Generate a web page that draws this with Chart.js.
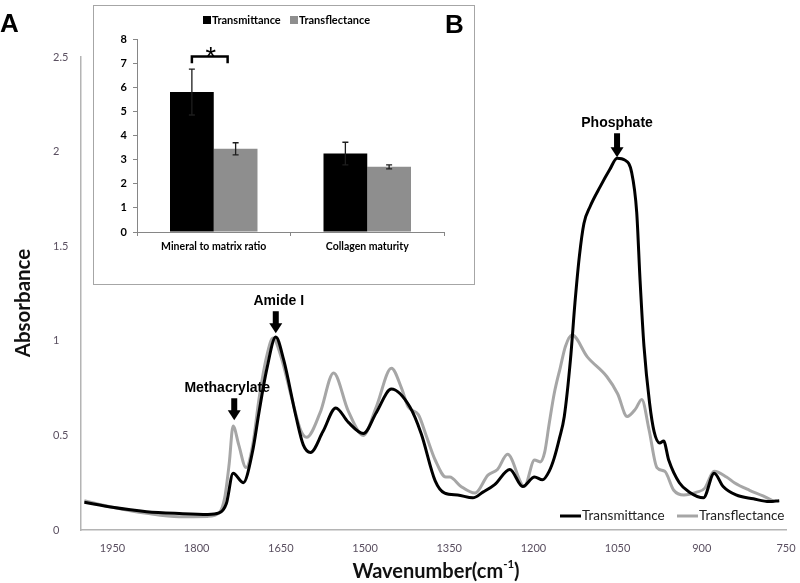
<!DOCTYPE html>
<html>
<head>
<meta charset="utf-8">
<script src="https://cdn.jsdelivr.net/npm/chart.js@4.4.0/dist/chart.umd.min.js"></script>
<style>
body { margin: 0; background: #fff; }
#wrap { position: relative; width: 800px; height: 583px; }
#main { position: absolute; left: 0; top: 0; }
#insetBox { position: absolute; left: 93px; top: 5px; width: 380px; height: 278px; border: 1px solid #a6a6a6; background: #fff; }
#inset { position: absolute; left: 0; top: 0; }
</style>
</head>
<body>
<div id="wrap">
  <canvas id="main" width="800" height="583"></canvas>
  <div id="insetBox"><canvas id="inset" width="380" height="278"></canvas></div>
</div>
<script>
// espectros (A) - numero de onda / absorbancia
const transWn  = [2000, 1950, 1889, 1831, 1780, 1760, 1747, 1735, 1717, 1700, 1689, 1675, 1659, 1645, 1623, 1610, 1597, 1575, 1552, 1530, 1503, 1480, 1453, 1420, 1400, 1375, 1358, 1335, 1308, 1290, 1269, 1242, 1219, 1198, 1184, 1172, 1163, 1154, 1145, 1134, 1126, 1118, 1110, 1099, 1081, 1064, 1051, 1037, 1025, 1016, 1010, 1003, 993, 985, 975, 968, 959, 940, 922, 897, 878, 862, 839, 808, 780, 762];
const transAbs = [0.147, 0.12, 0.097, 0.087, 0.082, 0.09, 0.14, 0.30, 0.25, 0.42, 0.62, 0.85, 1.02, 0.90, 0.60, 0.45, 0.41, 0.52, 0.645, 0.57, 0.51, 0.62, 0.745, 0.65, 0.51, 0.26, 0.195, 0.185, 0.17, 0.20, 0.24, 0.32, 0.23, 0.28, 0.265, 0.31, 0.38, 0.48, 0.60, 0.90, 1.20, 1.45, 1.62, 1.71, 1.815, 1.905, 1.965, 1.955, 1.89, 1.68, 1.32, 0.97, 0.67, 0.52, 0.46, 0.47, 0.37, 0.25, 0.20, 0.17, 0.30, 0.23, 0.185, 0.165, 0.15, 0.155];
const reflWn   = [2000, 1950, 1889, 1831, 1780, 1760, 1750, 1742, 1735, 1725, 1712, 1700, 1689, 1675, 1664, 1650, 1630, 1615, 1604, 1580, 1556, 1530, 1503, 1480, 1453, 1435, 1423, 1405, 1390, 1375, 1356, 1349, 1329, 1304, 1281, 1264, 1246, 1216, 1198, 1188, 1180, 1172, 1163, 1152, 1143, 1131, 1104, 1069, 1050, 1033, 1018, 1007, 994, 980, 966, 950, 932, 909, 895, 878, 856, 842, 815, 791, 771];
const reflAbs  = [0.155, 0.12, 0.088, 0.07, 0.072, 0.09, 0.17, 0.35, 0.55, 0.45, 0.33, 0.45, 0.69, 0.92, 1.015, 0.92, 0.69, 0.53, 0.49, 0.62, 0.83, 0.63, 0.50, 0.65, 0.855, 0.75, 0.65, 0.61, 0.49, 0.37, 0.28, 0.28, 0.23, 0.195, 0.29, 0.32, 0.40, 0.23, 0.37, 0.36, 0.41, 0.56, 0.72, 0.86, 0.97, 1.03, 0.915, 0.81, 0.72, 0.60, 0.64, 0.69, 0.53, 0.33, 0.31, 0.21, 0.185, 0.20, 0.22, 0.31, 0.28, 0.25, 0.21, 0.18, 0.15];
const xTicks = [1950, 1800, 1650, 1500, 1350, 1200, 1050, 900, 750];
const seriesNames = ['Transmittance', 'Transflectance'];

// picos marcados com seta
const peakNames = ['Methacrylate', 'Amide I', 'Phosphate'];
const peakWn  = [1733, 1659, 1051];
const peakAbs = [0.58, 1.04, 1.97];

// grafico de barras (B)
const barCats  = ['Mineral to matrix ratio', 'Collagen maturity'];
const transVals = [5.8, 3.25];
const transErr  = [0.95, 0.47];
const reflVals  = [3.45, 2.7];
const reflErr   = [0.25, 0.08];

const BLACK = '#000000';
const GREY_LINE = '#a6a6a6';
const GREY_BAR = '#8e8e8e';

function toPts(xs, ys) { // junta os arrays em pontos x/y
    let pts = [];
    for (let i = 0; i < xs.length; i++) pts.push({ x: xs[i], y: ys[i] });
    return pts;
}

function drawArrow(ctx, x, tipY, len) {
    ctx.fillStyle = '#000';
    ctx.fillRect(x - 3, tipY - len, 6, len - 9);
    ctx.beginPath();
    ctx.moveTo(x - 6.5, tipY - 10);
    ctx.lineTo(x + 6.5, tipY - 10);
    ctx.lineTo(x, tipY);
    ctx.closePath();
    ctx.fill();
}

const mainDecor = {
    id: 'mainDecor',
    afterDatasetsDraw(chart) {
        const ctx = chart.ctx;
        const xs = chart.scales.x, ys = chart.scales.y;
        const dx = [-7, 3, 0];
        const lens = [22, 22, 24];
        ctx.save();
        for (let i = 0; i < peakNames.length; i++) {
            const px = xs.getPixelForValue(peakWn[i]);
            const py = ys.getPixelForValue(peakAbs[i]);
            drawArrow(ctx, px, py, lens[i]);
            ctx.font = 'bold 14px "Liberation Sans", Arial, sans-serif';
            ctx.textAlign = 'center';
            ctx.textBaseline = 'middle';
            ctx.fillStyle = '#000';
            ctx.fillText(peakNames[i], px + dx[i], py - lens[i] - 10);
        }
        ctx.restore();
    },
    afterDraw(chart) {
        const ctx = chart.ctx;
        ctx.save();
        // legenda
        const legX = [560, 677];
        const cols = [BLACK, GREY_LINE];
        ctx.font = '13.5px Lato, sans-serif';
        ctx.textBaseline = 'middle';
        ctx.textAlign = 'left';
        for (let i = 0; i < 2; i++) {
            ctx.strokeStyle = cols[i];
            ctx.lineWidth = 3;
            ctx.beginPath();
            ctx.moveTo(legX[i], 516);
            ctx.lineTo(legX[i] + 21, 516);
            ctx.stroke();
            ctx.fillStyle = '#222';
            ctx.fillText(seriesNames[i], legX[i] + 22, 516);
        }
        // titulos dos eixos
        ctx.fillStyle = '#111';
        ctx.font = 'bold 20.5px Lato, sans-serif';
        ctx.save();
        ctx.translate(23, 303);
        ctx.rotate(-Math.PI / 2);
        ctx.textAlign = 'center';
        ctx.fillText('Absorbance', 0, 0);
        ctx.restore();
        const t1 = 'Wavenumber(cm', t2 = '-1', t3 = ')';
        ctx.font = 'bold 20px Lato, sans-serif';
        const w1 = ctx.measureText(t1).width, w3 = ctx.measureText(t3).width;
        ctx.font = 'bold 11.5px Lato, sans-serif';
        const w2 = ctx.measureText(t2).width;
        let x0 = 436 - (w1 + w2 + w3) / 2;
        ctx.textAlign = 'left';
        ctx.font = 'bold 20px Lato, sans-serif';
        ctx.fillText(t1, x0, 572);
        ctx.font = 'bold 11.5px Lato, sans-serif';
        ctx.fillText(t2, x0 + w1, 564);
        ctx.font = 'bold 20px Lato, sans-serif';
        ctx.fillText(t3, x0 + w1 + w2, 572);
        // letra do painel
        ctx.font = 'bold 26px "Liberation Sans", Arial, sans-serif';
        ctx.fillStyle = '#000';
        ctx.fillText('A', 0, 25);
        ctx.restore();
    }
};

new Chart(document.getElementById('main'), {
    type: 'line',
    data: {
        datasets: [{
            label: seriesNames[0],
            data: toPts(transWn, transAbs),
            borderColor: BLACK,
            borderWidth: 3,
            pointRadius: 0,
            cubicInterpolationMode: 'monotone'
        }, {
            label: seriesNames[1],
            data: toPts(reflWn, reflAbs),
            borderColor: GREY_LINE,
            borderWidth: 3,
            pointRadius: 0,
            cubicInterpolationMode: 'monotone'
        }]
    },
    options: {
        responsive: false,
        animation: false,
        devicePixelRatio: 1,
        layout: { padding: { left: 53, top: 57, right: 14, bottom: 23 } },
        plugins: { legend: { display: false }, tooltip: { enabled: false } },
        scales: {
            x: {
                type: 'linear',
                reverse: true,
                min: 750,
                max: 2006,
                afterBuildTicks: function (s) { s.ticks = xTicks.map(v => ({ value: v })); },
                afterFit: function (s) { s.height = 30; s.paddingLeft = 0; s.paddingRight = 0; },
                grid: { display: true, drawOnChartArea: false, drawTicks: false },
                border: { color: '#b4b4b4', width: 1.5 },
                ticks: {
                    autoSkip: false, maxRotation: 0, padding: 12,
                    color: '#5a4f60', font: { family: 'Lato', size: 11 },
                    callback: v => String(v)
                }
            },
            y: {
                min: 0,
                max: 2.5,
                afterFit: function (s) { s.width = 28; },
                grid: { display: true, drawOnChartArea: false, drawTicks: false },
                border: { color: '#b4b4b4', width: 1.5 },
                ticks: {
                    stepSize: 0.5, crossAlign: 'far', padding: 0,
                    color: '#5a4f60', font: { family: 'Lato', size: 11 },
                    callback: v => String(v)
                }
            }
        }
    },
    plugins: [mainDecor]
});

// barras de erro, colchete de significancia, legenda e letra B
const insetDecor = {
    id: 'insetDecor',
    afterDatasetsDraw(chart) {
        const ctx = chart.ctx, ys = chart.scales.y;
        const vals = [transVals, reflVals], errs = [transErr, reflErr];
        ctx.save();
        ctx.strokeStyle = '#1e1e1e';
        ctx.lineWidth = 1.3;
        for (let d = 0; d < 2; d++) {
            const meta = chart.getDatasetMeta(d);
            meta.data.forEach(function (bar, i) {
                const top = ys.getPixelForValue(vals[d][i] + errs[d][i]);
                const bot = ys.getPixelForValue(vals[d][i] - errs[d][i]);
                ctx.beginPath();
                ctx.moveTo(bar.x, top); ctx.lineTo(bar.x, bot);
                ctx.moveTo(bar.x - 3, top); ctx.lineTo(bar.x + 3, top);
                ctx.moveTo(bar.x - 3, bot); ctx.lineTo(bar.x + 3, bot);
                ctx.stroke();
            });
        }
        // colchete *
        const b0 = chart.getDatasetMeta(0).data[0], b1 = chart.getDatasetMeta(1).data[0];
        const yTop = ys.getPixelForValue(7.27), yEnd = ys.getPixelForValue(7.0);
        const xl = b0.x, xr = b1.x - 8;
        ctx.strokeStyle = '#000';
        ctx.lineWidth = 2.5;
        ctx.beginPath();
        ctx.moveTo(xl, yEnd); ctx.lineTo(xl, yTop); ctx.lineTo(xr, yTop); ctx.lineTo(xr, yEnd);
        ctx.stroke();
        ctx.fillStyle = '#000';
        ctx.font = '27px "Liberation Sans", Arial, sans-serif';
        ctx.textAlign = 'center';
        ctx.textBaseline = 'alphabetic';
        ctx.fillText('*', (xl + xr) / 2 + 1, yTop + 9);
        ctx.restore();
    },
    afterDraw(chart) {
        const ctx = chart.ctx;
        ctx.save();
        const lx = [109, 196];
        const cols = [BLACK, GREY_BAR];
        ctx.font = 'bold 11px Lato, sans-serif';
        ctx.textBaseline = 'middle';
        ctx.textAlign = 'left';
        for (let i = 0; i < 2; i++) {
            ctx.fillStyle = cols[i];
            ctx.fillRect(lx[i], 10, 8, 8);
            ctx.fillStyle = '#000';
            ctx.fillText(seriesNames[i], lx[i] + 9, 14.5);
        }
        ctx.font = 'bold 26px "Liberation Sans", Arial, sans-serif';
        ctx.fillText('B', 351, 20);
        ctx.restore();
    }
};

new Chart(document.getElementById('inset'), {
    type: 'bar',
    data: {
        labels: barCats,
        datasets: [{
            label: seriesNames[0],
            data: transVals,
            backgroundColor: BLACK,
            categoryPercentage: 0.57,
            barPercentage: 1
        }, {
            label: seriesNames[1],
            data: reflVals,
            backgroundColor: GREY_BAR,
            categoryPercentage: 0.57,
            barPercentage: 1
        }]
    },
    options: {
        responsive: false,
        animation: false,
        devicePixelRatio: 1,
        layout: { padding: { left: 8, top: 33, right: 30, bottom: 30 } },
        plugins: { legend: { display: false }, tooltip: { enabled: false } },
        scales: {
            x: {
                afterFit: function (s) { s.height = 22; },
                grid: { display: true, offset: true, drawOnChartArea: false, tickLength: 4, color: '#868686' },
                border: { color: '#868686', width: 1 },
                ticks: { padding: 4, color: '#000', font: { family: 'Lato', size: 10.5, weight: 'bold' } }
            },
            y: {
                min: 0,
                max: 8,
                afterFit: function (s) { s.width = 35; },
                grid: { display: true, drawOnChartArea: false, tickLength: 4, color: '#868686' },
                border: { color: '#868686', width: 1 },
                ticks: {
                    stepSize: 1, padding: 6, color: '#000',
                    font: { family: 'Lato', size: 11, weight: 'bold' },
                    callback: v => String(v)
                }
            }
        }
    },
    plugins: [insetDecor]
});
</script>
</body>
</html>
